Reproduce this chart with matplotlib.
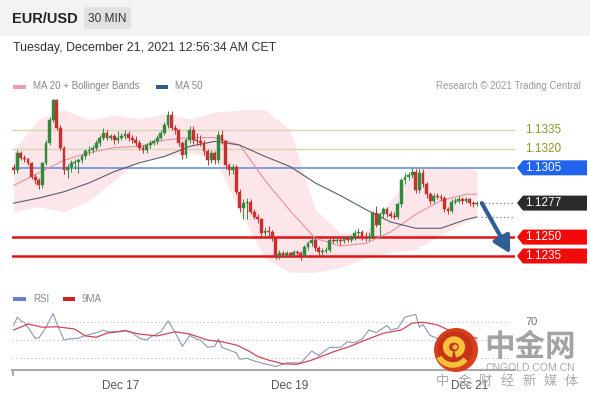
import matplotlib
matplotlib.use('Agg')
import matplotlib.pyplot as plt
import numpy as np
from matplotlib.patches import Rectangle, Polygon, FancyBboxPatch, Circle, Arc
from matplotlib.transforms import blended_transform_factory
from matplotlib.lines import Line2D

plt.rcParams['font.family'] = ['Liberation Sans', 'DejaVu Sans']

# ---------------- data ----------------
first_open = 1.1305
close = [1.1303,1.1317,1.1313,1.1312,1.1309,1.1298,1.1295,1.1291,1.1309,1.1325,
         1.1343,1.1359,1.1337,1.1321,1.1303,1.1306,1.1309,1.1310,1.1311,1.1314,
         1.1318,1.1319,1.1321,1.1325,1.1329,1.1333,1.1329,1.1330,1.1327,1.1329,
         1.1330,1.1332,1.1329,1.1327,1.1325,1.1321,1.1319,1.1323,1.1325,1.1326,
         1.1329,1.1333,1.1339,1.1347,1.1337,1.1335,1.1325,1.1315,1.1327,1.1335,
         1.1327,1.1326,1.1325,1.1318,1.1311,1.1317,1.1311,1.1331,1.1326,1.1307,
         1.1303,1.1306,1.1286,1.1273,1.1277,1.1278,1.1270,1.1266,1.1264,1.1253,
         1.1255,1.1254,1.1249,1.1235,1.1237,1.1236,1.1237,1.1236,1.1238,1.1237,
         1.1235,1.1242,1.1245,1.1248,1.1241,1.1238,1.1239,1.1240,1.1248,1.1247,
         1.1248,1.1247,1.1249,1.1248,1.1250,1.1253,1.1254,1.1250,1.1249,1.1251,
         1.1269,1.1260,1.1268,1.1272,1.1268,1.1267,1.1266,1.1276,1.1295,1.1298,
         1.1299,1.1302,1.1287,1.1301,1.1292,1.1284,1.1279,1.1283,1.1282,1.1281,
         1.1272,1.1271,1.1278,1.1279,1.1280,1.1279,1.1280,1.1277,1.1276,1.1277]
high = [1.1308,1.1319,1.1318,1.1315,1.1313,1.1310,1.1300,1.1297,1.1310,1.1327,
        1.1345,1.1360,1.1360,1.1339,1.1322,1.1308,1.1311,1.1312,1.1313,1.1316,
        1.1320,1.1322,1.1323,1.1327,1.1331,1.1337,1.1335,1.1332,1.1332,1.1334,
        1.1333,1.1335,1.1334,1.1331,1.1330,1.1327,1.1323,1.1325,1.1327,1.1328,
        1.1331,1.1335,1.1341,1.1350,1.1350,1.1339,1.1336,1.1326,1.1329,1.1338,
        1.1338,1.1333,1.1331,1.1327,1.1320,1.1319,1.1318,1.1334,1.1335,1.1327,
        1.1309,1.1308,1.1307,1.1288,1.1280,1.1281,1.1280,1.1272,1.1268,1.1265,
        1.1258,1.1259,1.1256,1.1250,1.1240,1.1239,1.1239,1.1238,1.1240,1.1240,
        1.1239,1.1244,1.1247,1.1251,1.1250,1.1243,1.1241,1.1242,1.1250,1.1250,
        1.1250,1.1250,1.1251,1.1251,1.1252,1.1256,1.1257,1.1256,1.1254,1.1254,
        1.1271,1.1275,1.1270,1.1274,1.1274,1.1271,1.1270,1.1278,1.1297,1.1301,
        1.1302,1.1305,1.1304,1.1304,1.1304,1.1294,1.1286,1.1285,1.1285,1.1284,
        1.1283,1.1274,1.1280,1.1281,1.1283,1.1282,1.1282,1.1281,1.1279,1.1279]
low = [1.1300,1.1301,1.1311,1.1310,1.1307,1.1296,1.1292,1.1288,1.1289,1.1307,
       1.1323,1.1341,1.1335,1.1319,1.1300,1.1297,1.1302,1.1304,1.1301,1.1309,
       1.1312,1.1315,1.1317,1.1319,1.1322,1.1327,1.1327,1.1327,1.1324,1.1325,
       1.1327,1.1328,1.1326,1.1325,1.1322,1.1319,1.1317,1.1317,1.1321,1.1323,
       1.1324,1.1327,1.1331,1.1337,1.1335,1.1332,1.1322,1.1312,1.1313,1.1325,
       1.1324,1.1323,1.1322,1.1315,1.1307,1.1309,1.1308,1.1309,1.1324,1.1304,
       1.1299,1.1300,1.1284,1.1270,1.1264,1.1264,1.1268,1.1264,1.1261,1.1251,
       1.1250,1.1250,1.1247,1.1233,1.1233,1.1234,1.1234,1.1234,1.1234,1.1235,
       1.1232,1.1234,1.1240,1.1243,1.1239,1.1236,1.1236,1.1237,1.1238,1.1245,
       1.1245,1.1244,1.1245,1.1246,1.1246,1.1248,1.1251,1.1248,1.1247,1.1247,
       1.1249,1.1258,1.1250,1.1265,1.1266,1.1265,1.1264,1.1264,1.1274,1.1292,
       1.1295,1.1297,1.1285,1.1285,1.1290,1.1281,1.1276,1.1277,1.1280,1.1279,
       1.1270,1.1268,1.1269,1.1276,1.1277,1.1276,1.1277,1.1275,1.1274,1.1275]

# indicator lines (sampled at candle positions)
ind_idx = [1, 8, 15, 22, 29, 36, 43, 50, 57, 64, 71, 78, 85, 92, 99, 106, 113, 120, 127, 130]
bb_upper = [1.1319, 1.1344, 1.1351, 1.1343, 1.1347, 1.1344, 1.1348, 1.1344, 1.1349, 1.1351,
            1.1351, 1.1335, 1.1272, 1.1253, 1.1254, 1.1279, 1.1305, 1.1306, 1.1305, 1.1303]
bb_lower = [1.1270, 1.1274, 1.1270, 1.1279, 1.1295, 1.1311, 1.1314, 1.1317, 1.1313, 1.1270,
            1.1233, 1.1222, 1.1222, 1.1226, 1.1233, 1.1238, 1.1240, 1.1252, 1.1262, 1.1265]
ma20 = [1.1291, 1.1301, 1.1311, 1.1317, 1.1321, 1.1322, 1.1327, 1.1329, 1.1329, 1.1323,
        1.1295, 1.1271, 1.1249, 1.1243, 1.1245, 1.1254, 1.1268, 1.1279, 1.1284, 1.1284]
ma50 = [1.1277, 1.1281, 1.1286, 1.1293, 1.1302, 1.1309, 1.1314, 1.1322, 1.1326, 1.1323,
        1.1314, 1.1306, 1.1293, 1.1283, 1.1272, 1.1262, 1.1257, 1.1257, 1.1264, 1.1266]

resistances = [1.1335, 1.1320]
pivot = 1.1305
last_price = 1.1277
supports = [1.1250, 1.1235]
forecast_target = 1.1237

rsi_idx = [1,2,3,4,6,7,8,10,12,13,15,16,19,21,24,26,27,30,32,34,36,38,39,42,44,46,48,50,52,53,
           55,57,58,59,61,63,64,66,68,70,74,77,81,84,86,89,92,94,96,98,100,102,105,106,108,110,
           113,114,115,117,120,125,130]
rsi = [66,75,71,69,58,52,52,64,79,68,50,51,52,55,58,61,59,59,61,58,52,50,53,59,71,58,43,55,51,50,
       42,43,51,42,39,36,29,30,27,25,21,25,25,38,33,42,42,48,47,51,61,58,66,61,63,75,
       78,64,67,55,50,48,47]
ma9_idx = [1,5,9,13,18,21,24,27,32,36,41,46,50,55,59,63,66,69,72,76,80,84,90,95,99,104,109,112,115,119,121,125,130]
ma9 = [61,67.5,64,64.5,62,54.5,53,57.5,60,56.5,54.5,59,56.5,50,48,44.5,39,32,28,24,23.5,28,37,43.5,50,
       57.5,61,68.5,69.5,66.5,63,56,52]
rsi_levels = [70, 50, 30]

tick_pos = [30.9, 78, 128]
tick_labels = ['Dec 17', 'Dec 19', 'Dec 21']

# ---------------- figure ----------------
W, H = 590, 400
fig = plt.figure(figsize=(W / 100, H / 100), dpi=100)
fig.patch.set_facecolor('white')

def fx(px):
    return px / W

def fy(py):
    return 1 - py / H

# header band
fig.add_artist(Rectangle((0, fy(36)), 1, 36 / H, transform=fig.transFigure,
                         facecolor='#f3f3f3', edgecolor='none', zorder=0))
fig.add_artist(FancyBboxPatch((fx(84), fy(29)), fx(131) - fx(84), 22 / H,
                              boxstyle='round,pad=0,rounding_size=0.004',
                              transform=fig.transFigure, facecolor='#e1e1e1',
                              edgecolor='none', zorder=1))
fig.text(fx(12), fy(19), 'EUR/USD', fontsize=10.5, fontweight='bold', color='#222',
         va='center', ha='left')
fig.text(fx(107.5), fy(18.5), '30 MIN', fontsize=8.6, color='#333', va='center', ha='center')
fig.text(fx(13), fy(48), 'Tuesday, December 21, 2021 12:56:34 AM CET', fontsize=8.9,
         color='#333', va='center', ha='left')

# legends
fig.add_artist(Rectangle((fx(13), fy(88.5)), 13 / W, 4 / H, transform=fig.transFigure,
                         facecolor='#f0a0a8', edgecolor='none'))
fig.text(fx(33), fy(86), 'MA 20 + Bollinger Bands', fontsize=7, color='#888', va='center')
fig.add_artist(Rectangle((fx(156), fy(88.5)), 12 / W, 4 / H, transform=fig.transFigure,
                         facecolor='#2f5a8a', edgecolor='none'))
fig.text(fx(175), fy(86), 'MA 50', fontsize=7, color='#888', va='center')
fig.text(fx(581), fy(86), 'Research \u00a9 2021 Trading Central', fontsize=7, color='#999',
         va='center', ha='right')

fig.add_artist(Rectangle((fx(13), fy(300.5)), 13 / W, 4 / H, transform=fig.transFigure,
                         facecolor='#6a80c8', edgecolor='none'))
fig.text(fx(33), fy(298.5), 'RSI', fontsize=7, color='#888', va='center')
fig.add_artist(Rectangle((fx(63), fy(300.5)), 12 / W, 4 / H, transform=fig.transFigure,
                         facecolor='#d42020', edgecolor='none'))
fig.text(fx(82), fy(298.5), '9MA', fontsize=7, color='#888', va='center')

# ---------------- main price axes ----------------
px_per_candle = 3.59
x_left = 1 - (13.7 - 12) / px_per_candle
x_right = 130 + (515 - 476.8) / px_per_candle
ax = fig.add_axes([fx(12), fy(272), (515 - 12) / W, (272 - 95) / H])
ax.set_xlim(x_left, x_right)
ax.set_ylim(1.12223, 1.13628)
ax.axis('off')

idx = np.arange(1, len(close) + 1)
opens = [first_open] + close[:-1]

ax.fill_between(ind_idx, bb_lower, bb_upper, color='#fad6db', alpha=0.6, lw=0, zorder=1)
ax.plot(ind_idx, ma20, color='#e8909a', lw=0.8, zorder=3)
ax.plot(ind_idx, ma50, color='#55606e', lw=0.8, zorder=3)

for r in resistances:
    ax.axhline(r, color='#d6d6b4', lw=1.0, zorder=2)
ax.axhline(pivot, color='#6a93dc', lw=1.2, zorder=2)
for s in supports:
    ax.axhline(s, color='#e01414', lw=1.8, zorder=2)

green, red = '#2f8a3e', '#c8302e'
for i, o, c, hh, ll in zip(idx, opens, close, high, low):
    col = green if c >= o else red
    ax.vlines(i, ll, hh, color=col, lw=0.7, zorder=4)
    bot = min(o, c)
    hgt = max(abs(c - o), 0.00004)
    ax.bar(i, hgt, bottom=bot, width=0.78, color=col, edgecolor=col, lw=0.3, zorder=5)

ax.hlines([last_price, ma50[-1]], 131.2, x_right, colors='#777', linestyles=(0, (1, 2)), lw=0.9, zorder=3)

ax.annotate('', xy=(139.3, forecast_target), xytext=(131.4, last_price),
            arrowprops=dict(arrowstyle='-|>,head_length=1.0,head_width=0.55', color='#2d5e95',
                            lw=3.0, shrinkA=0, shrinkB=0),
            annotation_clip=False, zorder=6)

# price tags
btr = blended_transform_factory(fig.transFigure, ax.transData)
hh_ = 15 * (0.0100 / 126) / 2

def tag(price, text, fc):
    pts = [(fx(517), price), (fx(523), price + hh_), (fx(587), price + hh_),
           (fx(587), price - hh_), (fx(523), price - hh_)]
    fig.add_artist(Polygon(pts, closed=True, transform=btr, facecolor=fc, edgecolor='none',
                           clip_on=False, zorder=6))
    fig.text(fx(525), price, text, transform=btr, fontsize=8.5, color='white', va='center',
             ha='left', zorder=8)

for r in resistances:
    fig.text(fx(525), r, f'{r:.4f}', transform=btr, fontsize=8.5, color='#8a9a2a',
             va='center', ha='left', zorder=8)
tag(pivot, f'{pivot:.4f}', '#1f63ee')
tag(last_price, f'{last_price:.4f}', '#2b2b2b')
for s in supports:
    tag(s, f'{s:.4f}', '#f00a0a')

# ---------------- RSI axes ----------------
rx = fig.add_axes([fx(12), fy(370), (515 - 12) / W, 65 / H])
rx.set_xlim(x_left, x_right)
rx.set_ylim(17.2, 88.3)
for sp in ['top', 'right', 'left']:
    rx.spines[sp].set_visible(False)
rx.spines['bottom'].set_color('#a8a8a8')
rx.spines['bottom'].set_linewidth(1.5)
rx.set_yticks([])
rx.set_xticks(tick_pos)
rx.set_xticklabels(tick_labels, fontsize=8.5, color='#555')
rx.tick_params(axis='x', length=0, pad=7)
rx.patch.set_alpha(0)
for lv in rsi_levels:
    rx.axhline(lv, color='#c8c8c8', lw=0.9, ls=(0, (1, 2)), xmax=0.99)
rx.plot(rsi_idx, rsi, color='#8b98b4', lw=0.8)
rx.plot(ma9_idx, ma9, color='#d0455a', lw=0.9)
rbt = blended_transform_factory(fig.transFigure, rx.transData)
fig.text(fx(525), 70, '70', transform=rbt, fontsize=8, color='#777', va='center')
fig.add_artist(Line2D([fx(12.5), fx(12.5)], [fy(370), fy(375)], transform=fig.transFigure,
                      color='#a8a8a8', lw=1.3))

# ---------------- watermark ----------------
cx, cy, rr = 4.56, (H - 350) / 100, 0.22
fig.add_artist(Circle((cx, cy), rr, transform=fig.dpi_scale_trans, facecolor='#d8401c',
                      edgecolor='none', zorder=20))
fig.add_artist(Circle((cx - 0.01, cy + 0.01), rr * 0.8, transform=fig.dpi_scale_trans,
                      facecolor='#c7321a', edgecolor='none', zorder=20))
fig.add_artist(Arc((cx - 0.02, cy + 0.03), 0.16, 0.15, theta1=-80, theta2=260,
                   transform=fig.dpi_scale_trans, color='#f6c23a', lw=4.5, zorder=21))
fig.add_artist(Arc((cx - 0.03, cy - 0.02), 0.30, 0.26, theta1=200, theta2=330,
                   transform=fig.dpi_scale_trans, color='#f6c23a', lw=4.0, zorder=21))
fig.add_artist(Circle((cx - 0.01, cy + 0.03), 0.025, transform=fig.dpi_scale_trans,
                      facecolor='#f6c23a', edgecolor='none', zorder=21))
cjk = ['Noto Sans CJK SC', 'DejaVu Sans']
fig.text(fx(484), fy(347), '中金网', fontsize=22, fontweight='bold', color='#999999',
         family=cjk, va='center', ha='left', zorder=20, alpha=0.9)
fig.text(fx(485), fy(368), 'CNGOLD.COM.CN', fontsize=7.5, color='#aaaaaa', va='center',
         ha='left', zorder=20)
chars = ['中', '金', '财', '经', '新', '媒', '体']
for k, ch in enumerate(chars):
    fig.text(fx(436 + k * 21.5), fy(381), ch, fontsize=9.5, color='#aaaaaa', family=cjk,
             va='center', ha='left', zorder=20)

fig.savefig('out.png', dpi=100, facecolor='white')
